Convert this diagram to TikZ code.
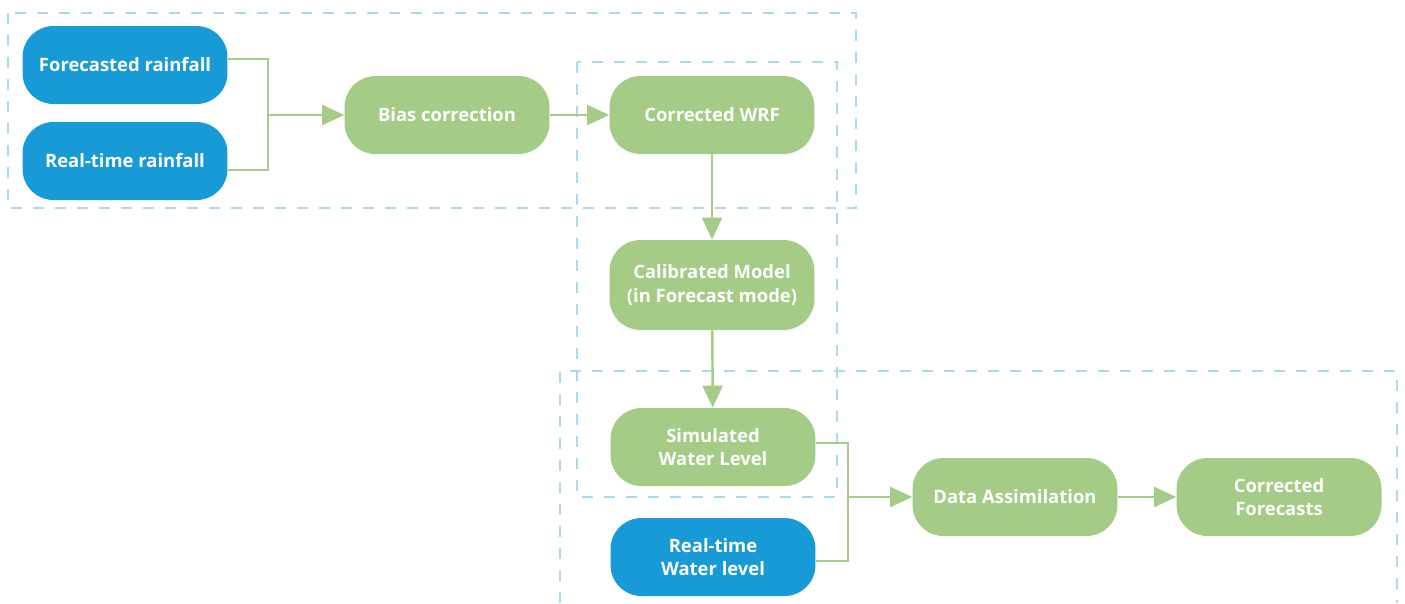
\documentclass[tikz,border=0pt]{standalone}
\usepackage{fontspec}
\setmainfont{Open Sans}
\usepackage{tikz}
\usetikzlibrary{arrows.meta}
\definecolor{flowblue}{RGB}{24,154,214}
\definecolor{flowgreen}{RGB}{164,204,134}
\definecolor{zoneblue}{RGB}{170,218,242}

\begin{document}
\begin{tikzpicture}[x=0.02cm,y=-0.02cm,
  every node/.style={font=\fontsize{10.5}{13.5}\selectfont\bfseries},
  rainbox/.style={fill=flowblue,text=white,rounded corners=0.62cm,minimum width=4.1cm,minimum height=1.56cm,align=center,inner sep=0pt},
  procbox/.style={rainbox,fill=flowgreen},
  zone/.style={zoneblue,line width=1.1pt,dash pattern=on 0.22cm off 0.22cm},
  link/.style={flowgreen,line width=1.4pt},
  arrow/.style={link,-{Triangle[length=0.44cm,width=0.4cm]}}]
\useasboundingbox (0,0) rectangle (1405,603);
% dashed groups
\draw[zone] (8,13) rectangle (856,208);
\draw[zone] (577,62) rectangle (837,497);
\draw[zone] (560,603) -- (560,371) -- (1397,371) -- (1397,603);
% rainfall inputs
\node[rainbox] (fr) at (125,65) {Forecasted rainfall};
\node[rainbox] (rr) at (125,161) {Real-time rainfall};
\node[procbox] (bias) at (447,115) {Bias correction};
\node[procbox] (wrf) at (712,115) {Corrected WRF};
\node[procbox,minimum height=1.8cm] (cal) at (712,285) {Calibrated Model\\(in Forecast mode)};
\node[procbox] (sim) at (713,447) {Simulated\\Water Level};
\node[rainbox] (rw) at (713,557) {Real-time\\Water level};
\node[procbox] (da) at (1015,497) {Data Assimilation};
\node[procbox] (cf) at (1279,497) {Corrected\\Forecasts};
% connectors
\coordinate (jr) at (268,115);
\coordinate (jw) at (848,497);
\draw[link] ([yshift=0.12cm]fr.east) -| (jr);
\draw[link] ([yshift=-0.18cm]rr.east) -| (jr);
\draw[arrow] (jr) -- (bias);
\draw[arrow] (bias) -- (wrf);
\draw[arrow] (wrf) -- (cal);
\draw[arrow] (cal) -- (sim);
\draw[link] ([yshift=0.08cm]sim.east) -| (jw);
\draw[link] ([yshift=-0.08cm]rw.east) -| (jw);
\draw[arrow] (jw) -- (da);
\draw[arrow] (da) -- (cf);
\end{tikzpicture}
\end{document}
